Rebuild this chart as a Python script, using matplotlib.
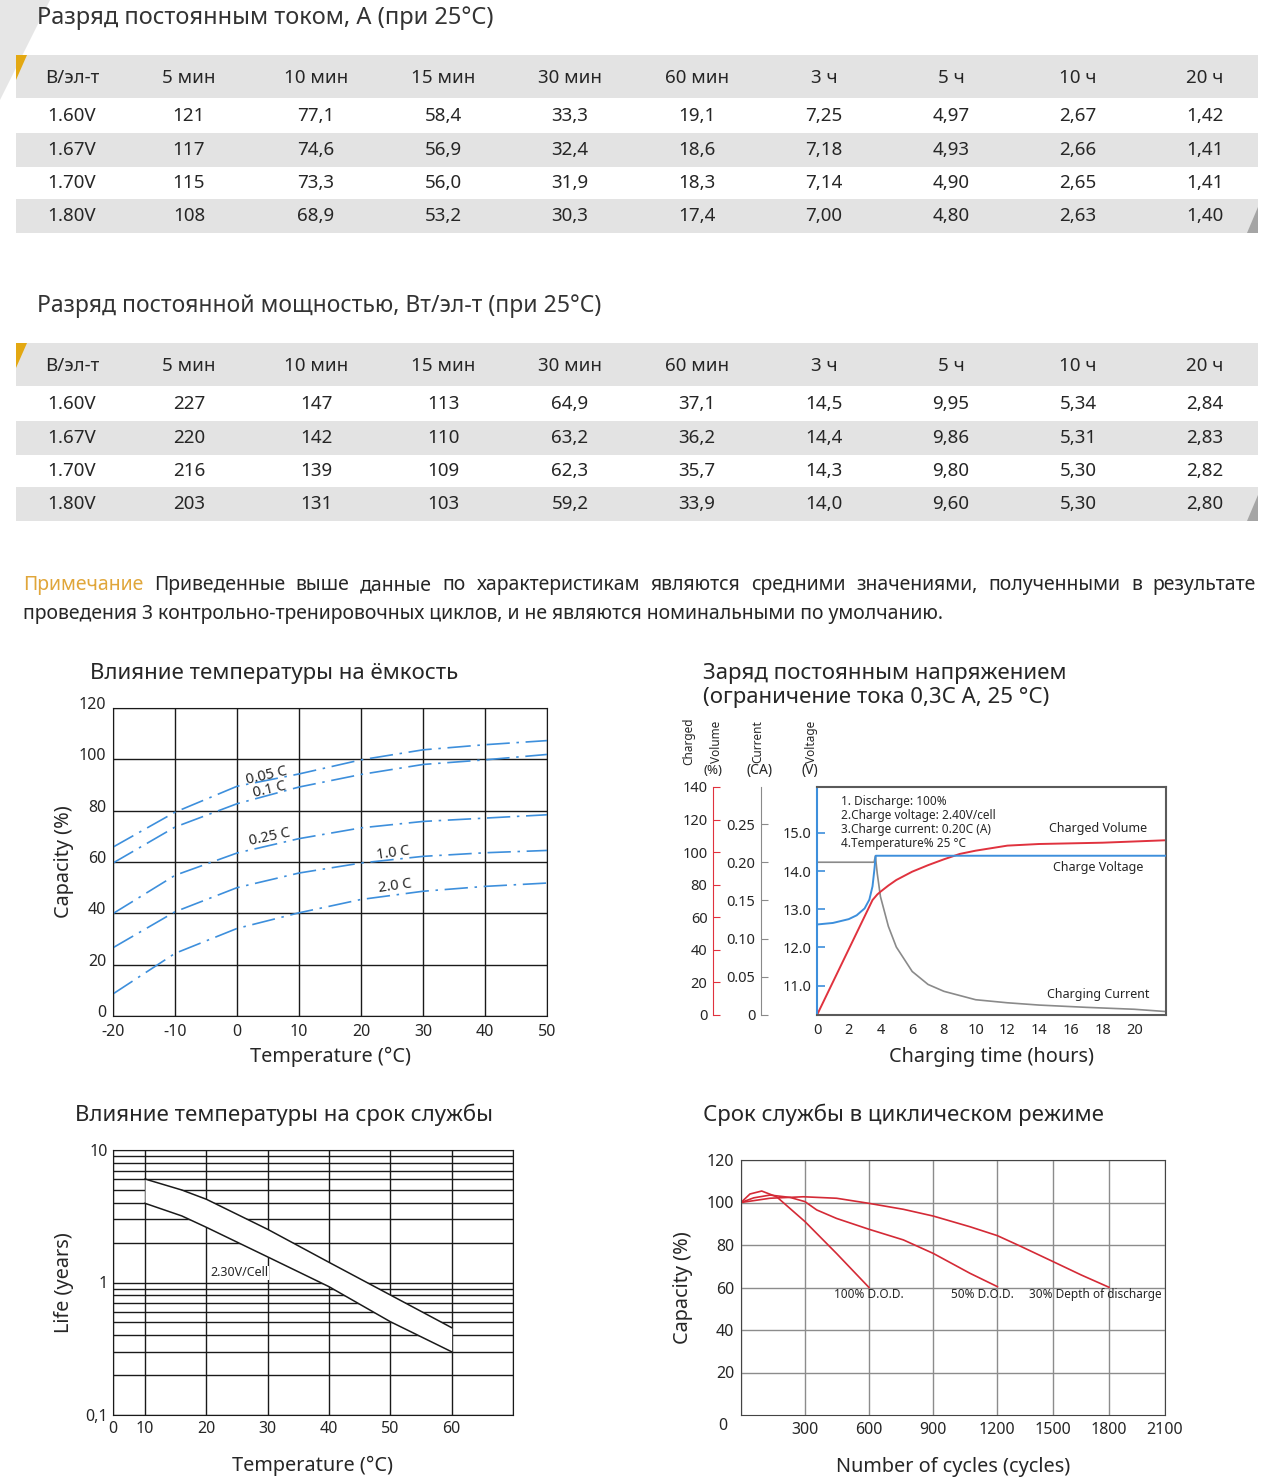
import numpy as np
import matplotlib
matplotlib.use('Agg')
import matplotlib.pyplot as plt
from matplotlib.patches import Polygon, Rectangle
from matplotlib.ticker import FixedLocator, LogLocator, NullFormatter, FixedFormatter
from matplotlib.scale import FuncScale
from matplotlib.transforms import ScaledTranslation

W, H = 1280, 1479
plt.rcParams['font.family'] = ['Noto Sans', 'DejaVu Sans']
plt.rcParams['axes.unicode_minus'] = False
TXT = '#262626'

# ---------------- table data ----------------
table_cols = ['В/эл-т', '5 мин', '10 мин', '15 мин', '30 мин', '60 мин', '3 ч', '5 ч', '10 ч', '20 ч']
table_volts = ['1.60V', '1.67V', '1.70V', '1.80V']
current_rows = [
    ['121', '77,1', '58,4', '33,3', '19,1', '7,25', '4,97', '2,67', '1,42'],
    ['117', '74,6', '56,9', '32,4', '18,6', '7,18', '4,93', '2,66', '1,41'],
    ['115', '73,3', '56,0', '31,9', '18,3', '7,14', '4,90', '2,65', '1,41'],
    ['108', '68,9', '53,2', '30,3', '17,4', '7,00', '4,80', '2,63', '1,40']]
power_rows = [
    ['227', '147', '113', '64,9', '37,1', '14,5', '9,95', '5,34', '2,84'],
    ['220', '142', '110', '63,2', '36,2', '14,4', '9,86', '5,31', '2,83'],
    ['216', '139', '109', '62,3', '35,7', '14,3', '9,80', '5,30', '2,82'],
    ['203', '131', '103', '59,2', '33,9', '14,0', '9,60', '5,30', '2,80']]
title_current = 'Разряд постоянным током, А (при 25°С)'
title_power = 'Разряд постоянной мощностью, Вт/эл-т (при 25°С)'
note_head = 'Примечание'
note_line1 = 'Приведенные выше данные по характеристикам являются средними значениями, полученными в результате'
note_line2 = 'проведения 3 контрольно-тренировочных циклов, и не являются номинальными по умолчанию.'

# ---------------- chart 1: temperature vs capacity ----------------
temp_c = [-20, -10, 0, 10, 20, 30, 40, 50]
cap_005 = [65.8, 79.4, 89.5, 94.3, 99.8, 103.7, 105.7, 107.3]
cap_01 = [59.6, 73.6, 82.7, 89.2, 94.1, 98.0, 99.8, 101.9]
cap_025 = [39.9, 54.8, 63.5, 69.1, 73.3, 75.8, 77.1, 78.4]
cap_10 = [26.6, 40.6, 50.0, 55.7, 59.6, 62.2, 63.6, 64.5]
cap_20 = [8.6, 24.4, 34.1, 40.2, 45.4, 48.6, 50.5, 51.8]
rate_labels = ['0.05 C', '0.1 C', '0.25 C', '1.0 C', '2.0 C']

# ---------------- chart 2: charging ----------------
t_volt = [0, 1, 2, 2.5, 3.0, 3.3, 3.5, 3.62, 3.7, 22]
v_volt = [12.6, 12.64, 12.74, 12.84, 13.02, 13.25, 13.6, 14.05, 14.4, 14.4]
t_cur = [0, 3.6, 3.68, 3.8, 4.0, 4.5, 5.0, 6.0, 7.0, 8.0, 10.0, 12.0, 14.0, 17.0, 20.0, 22.0]
v_cur = [0.20, 0.20, 0.208, 0.185, 0.155, 0.116, 0.089, 0.057, 0.040, 0.031, 0.020, 0.016, 0.013, 0.010, 0.0075, 0.0045]
t_vol = [0, 3.5, 3.8, 4.0, 4.5, 5.0, 6.0, 7.0, 8.0, 9.0, 10.0, 12.0, 14.0, 18.0, 22.0]
v_vol = [0, 70.6, 74.0, 75.7, 79.5, 82.9, 88.0, 92.0, 95.6, 98.9, 100.9, 104.0, 105.0, 105.8, 107.3]

# ---------------- chart 3: life vs temperature ----------------
life_t = [10, 16, 20, 30, 40, 50, 60]
life_upper = [6.04, 4.99, 4.25, 2.52, 1.42, 0.805, 0.456]
life_lower = [3.96, 3.18, 2.61, 1.56, 0.93, 0.506, 0.30]

# ---------------- chart 4: cycle life ----------------
c100_x = [0, 42, 97, 167, 300, 448, 600]
c100_y = [100, 104, 105.4, 102.7, 91, 76, 60]
c50_x = [0, 60, 136, 230, 300, 355, 448, 600, 761, 902, 1073, 1202]
c50_y = [100, 102.2, 103.5, 102.4, 100.4, 96.5, 92.5, 87.4, 82.4, 76, 66.7, 60.4]
c30_x = [0, 136, 292, 448, 600, 761, 902, 1073, 1202, 1324, 1500, 1651, 1800]
c30_y = [100, 102, 102.7, 102, 99.6, 96.8, 93.6, 88.6, 84.4, 79.5, 72.2, 65.9, 60.1]
dod_labels = ['100% D.O.D.', '50% D.O.D.', '30% Depth of discharge']

fig = plt.figure(figsize=(W / 100, H / 100), dpi=100)

# background pixel-coordinate axes
bg = fig.add_axes([0, 0, 1, 1], zorder=0)
bg.set_xlim(0, W)
bg.set_ylim(H, 0)
bg.axis('off')

bg.add_patch(Polygon([(0, 0), (50, 0), (0, 100)], closed=True, color='#e6e6e6', lw=0))

col_x = [72, 189, 316, 443, 570, 697, 824, 951, 1078, 1205]
GRAY = '#e3e3e3'
TFS = 13.5


def draw_table(y0, title, rows, tfs):
    bg.text(37, y0 + 18, title, fontsize=tfs, color='#333333', va='center', ha='left')
    bg.add_patch(Rectangle((16, y0 + 55), 1242, 43, color=GRAY, lw=0))
    bg.add_patch(Polygon([(16, y0 + 55), (27, y0 + 55), (16, y0 + 80)], closed=True, color='#e3a812', lw=0))
    for i, c in enumerate(table_cols):
        bg.text(col_x[i], y0 + 78, c, fontsize=TFS, color=TXT, ha='center', va='center')
    row_y = [116, 150, 183, 216]
    for r in range(4):
        if r % 2 == 1:
            bg.add_patch(Rectangle((16, y0 + row_y[r] - 17), 1242, 33.5, color=GRAY, lw=0))
        bg.text(col_x[0], y0 + row_y[r], table_volts[r], fontsize=TFS, color=TXT, ha='center', va='center')
        for j, v in enumerate(rows[r]):
            bg.text(col_x[j + 1], y0 + row_y[r], v, fontsize=TFS, color=TXT, ha='center', va='center')
    bg.add_patch(Polygon([(1247, y0 + 233), (1258, y0 + 207), (1258, y0 + 233)], closed=True,
                         color='#a5a5a5', lw=0))


draw_table(0, title_current, current_rows, 17)
draw_table(288, title_power, power_rows, 16.5)

# note with justification
renderer = fig.canvas.get_renderer()
NFS = 14


def justify(words, y, x0, x1, colors):
    arts = [bg.text(0, y, w, fontsize=NFS, color=c, ha='left', va='center') for w, c in zip(words, colors)]
    inv = bg.transData.inverted()
    widths = []
    for a in arts:
        bb = a.get_window_extent(renderer)
        p0 = inv.transform((bb.x0, bb.y0))
        p1 = inv.transform((bb.x1, bb.y0))
        widths.append(p1[0] - p0[0])
    gap = (x1 - x0 - sum(widths)) / (len(words) - 1)
    x = x0
    for a, w in zip(arts, widths):
        a.set_x(x)
        x += w + gap


w1 = [note_head] + note_line1.split()
justify(w1, 585, 23, 1256, ['#e0a63a'] + [TXT] * (len(w1) - 1))
bg.text(23, 614, note_line2, fontsize=NFS, color=TXT, ha='left', va='center')


def fx(px):
    return px / W


def fy(py):
    return 1 - py / H


TICK_FS = 11.5
LAB_FS = 14.3
TITLE_FS = 16

# ---------------- chart 1 ----------------
BLUE = '#3d8fdc'
ax1 = fig.add_axes([fx(113), fy(1016), (547 - 113) / W, (1016 - 708) / H], zorder=2)
for ys, lab in zip([cap_005, cap_01, cap_025, cap_10, cap_20], rate_labels):
    ln, = ax1.plot(temp_c, ys, color=BLUE, lw=1.2)
    ln.set_dashes([14, 4, 1.5, 4])
ax1.set_xlim(-20, 50)
ax1.set_ylim(0, 120)
ax1.set_xticks(range(-20, 51, 10))
ax1.set_yticks(range(0, 121, 20))
ax1.grid(True, color='#1a1a1a', lw=1)
ax1.tick_params(length=0, labelsize=TICK_FS, colors=TXT, pad=5)
ax1.tick_params(axis='x', pad=6)
up = ScaledTranslation(0, 5 / 100, fig.dpi_scale_trans)
for lab in ax1.get_yticklabels():
    lab.set_transform(lab.get_transform() + up)
for s in ax1.spines.values():
    s.set_color('#1a1a1a')
ax1.set_xlabel('Temperature (°C)', fontsize=LAB_FS, color=TXT, labelpad=5)
ax1.set_ylabel('Capacity (%)', fontsize=LAB_FS, color=TXT, labelpad=3)
lab_pos = [(4.8, 93.5, 13), (5.3, 88.3, 13), (5.3, 69.8, 12), (25.1, 63.4, 8), (25.5, 50.5, 8)]
for lab, (x, y, r) in zip(rate_labels, lab_pos):
    ax1.text(x, y, lab, fontsize=10.5, color=TXT, rotation=r, ha='center', va='center')
fig.text(fx(90), fy(673), 'Влияние температуры на ёмкость', fontsize=TITLE_FS, color=TXT, ha='left', va='center')

# ---------------- chart 2 ----------------
GREY = '#8a8a8a'
RED = '#e0323e'
ax2 = fig.add_axes([fx(817), fy(1015), (1166 - 817) / W, (1015 - 787) / H], zorder=2)
ax2.set_xlim(0, 22)
ax2.set_ylim(10.23, 16.2)
ax2.set_yticks([11, 12, 13, 14, 15])
ax2.set_yticklabels(['11.0', '12.0', '13.0', '14.0', '15.0'])
ax2.set_xticks(range(0, 21, 2))
ax2.tick_params(axis='x', length=0, labelsize=10.5, colors=TXT, pad=6)
ax2.tick_params(axis='y', direction='in', length=6, width=1.2, color=BLUE, labelcolor=TXT, labelsize=10.5, pad=4)
for k in ['top', 'right', 'bottom']:
    ax2.spines[k].set_color('#5a5a5a')
    ax2.spines[k].set_linewidth(1.5)
ax2.spines['left'].set_color(BLUE)
ax2.spines['left'].set_linewidth(1.5)
ax2.set_xlabel('Charging time (hours)', fontsize=LAB_FS, color=TXT, labelpad=6)

axc = ax2.twinx()
axc.set_ylim(0, 0.2985)
axc.plot(t_cur, v_cur, color=GREY, lw=1.2)
axc.yaxis.tick_left()
for k in ['top', 'right', 'bottom']:
    axc.spines[k].set_visible(False)
axc.spines['left'].set_visible(True)
axc.spines['left'].set_position(('axes', -0.1605))
axc.spines['left'].set_color(GREY)
axc.set_yticks([0, 0.05, 0.10, 0.15, 0.20, 0.25])
axc.set_yticklabels(['0', '0.05', '0.10', '0.15', '0.20', '0.25'])
axc.tick_params(axis='y', direction='in', length=5, color=GREY, labelcolor=TXT, labelsize=10.5, pad=4)

axv = ax2.twinx()
axv.set_ylim(0, 140)
axv.plot(t_vol, v_vol, color=RED, lw=1.4)
axv.yaxis.tick_left()
for k in ['top', 'right', 'bottom']:
    axv.spines[k].set_visible(False)
axv.spines['left'].set_visible(True)
axv.spines['left'].set_position(('axes', -0.298))
axv.spines['left'].set_color(RED)
axv.set_yticks(range(0, 141, 20))
axv.tick_params(axis='y', direction='in', length=5, color=RED, labelcolor=TXT, labelsize=10.5, pad=4)

ax2.plot(t_volt, v_volt, color=BLUE, lw=1.4, zorder=5)
ax2.set_zorder(3)
ax2.patch.set_visible(False)

ax2.text(0.07, 0.965, '1. Discharge: 100%\n2.Charge voltage: 2.40V/cell\n3.Charge current: 0.20C (A)\n4.Temperature% 25 °C',
         transform=ax2.transAxes, fontsize=8.5, color=TXT, ha='left', va='top', linespacing=1.1)
ax2.text(0.805, 0.82, 'Charged Volume', transform=ax2.transAxes, fontsize=9, color=TXT, ha='center', va='center')
ax2.text(0.805, 0.645, 'Charge Voltage', transform=ax2.transAxes, fontsize=9, color=TXT, ha='center', va='center')
ax2.text(0.805, 0.09, 'Charging Current', transform=ax2.transAxes, fontsize=9, color=TXT, ha='center', va='center')

fig.text(fx(703), fy(673), 'Заряд постоянным напряжением', fontsize=TITLE_FS, color=TXT, ha='left', va='center')
fig.text(fx(703), fy(697), '(ограничение тока 0,3С А, 25 °С)', fontsize=TITLE_FS, color=TXT, ha='left', va='center')
fig.text(fx(689), fy(765), 'Charged', fontsize=8.5, color=TXT, rotation=90, ha='center', va='bottom')
fig.text(fx(716), fy(763), 'Volume', fontsize=8.5, color=TXT, rotation=90, ha='center', va='bottom')
fig.text(fx(758), fy(763), 'Current', fontsize=8.5, color=TXT, rotation=90, ha='center', va='bottom')
fig.text(fx(811), fy(763), 'Voltage', fontsize=8.5, color=TXT, rotation=90, ha='center', va='bottom')
fig.text(fx(713), fy(771), '(%)', fontsize=9.5, color=TXT, ha='center', va='center')
fig.text(fx(760), fy(771), '(CA)', fontsize=10, color=TXT, ha='center', va='center')
fig.text(fx(810), fy(771), '(V)', fontsize=10, color=TXT, ha='center', va='center')

# ---------------- chart 3 ----------------
XP3 = [0, 10, 70]
FP3 = [0, 5.6, 70]
ax3 = fig.add_axes([fx(113), fy(1415), (513 - 113) / W, (1415 - 1150) / H], zorder=2)
ax3.set_xscale(FuncScale(ax3.xaxis, (lambda x: np.interp(x, XP3, FP3), lambda y: np.interp(y, FP3, XP3))))
ax3.set_yscale('log')
ax3.set_xlim(0, 70)
ax3.set_ylim(0.1, 10)
ax3.fill_between(life_t, life_lower, life_upper, color='white', zorder=2, lw=0)
ax3.plot(life_t, life_upper, color='#1a1a1a', lw=1.1, zorder=3)
ax3.plot(life_t, life_lower, color='#1a1a1a', lw=1.1, zorder=3)
ax3.xaxis.set_major_locator(FixedLocator([0, 10, 20, 30, 40, 50, 60]))
ax3.xaxis.set_major_formatter(FixedFormatter(['0', '10', '20', '30', '40', '50', '60']))
ax3.xaxis.set_minor_locator(FixedLocator([70]))
ax3.yaxis.set_major_locator(FixedLocator([0.1, 1, 10]))
ax3.yaxis.set_major_formatter(FixedFormatter(['0,1', '1', '10']))
ax3.yaxis.set_minor_locator(LogLocator(base=10, subs=np.arange(2, 10)))
ax3.yaxis.set_minor_formatter(NullFormatter())
ax3.set_axisbelow(True)
ax3.grid(True, which='both', color='#1a1a1a', lw=1)
ax3.tick_params(which='both', length=0, labelsize=TICK_FS, colors=TXT, pad=4)
for s in ax3.spines.values():
    s.set_color('#1a1a1a')
ax3.text(20.6, 1.18, '2.30V/Cell', fontsize=9, color=TXT, ha='left', va='center', zorder=4,
         bbox=dict(facecolor='white', edgecolor='none', pad=0.5))
ax3.set_xlabel('Temperature (°C)', fontsize=LAB_FS, color=TXT, labelpad=14)
ax3.set_ylabel('Life (years)', fontsize=LAB_FS, color=TXT, labelpad=8)
fig.text(fx(75), fy(1115), 'Влияние температуры на срок службы', fontsize=TITLE_FS, color=TXT, ha='left', va='center')

# ---------------- chart 4 ----------------
XP4 = [0, 1200, 2100]
FP4 = [0, 1200, 1987.5]
ax4 = fig.add_axes([fx(741), fy(1415), (1165 - 741) / W, (1415 - 1160) / H], zorder=2)
ax4.set_xscale(FuncScale(ax4.xaxis, (lambda x: np.interp(x, XP4, FP4), lambda y: np.interp(y, FP4, XP4))))
ax4.set_xlim(0, 2100)
ax4.set_ylim(0, 120)
CRED = '#d42a36'
ax4.plot(c100_x, c100_y, color=CRED, lw=1.2)
ax4.plot(c50_x, c50_y, color=CRED, lw=1.2)
ax4.plot(c30_x, c30_y, color=CRED, lw=1.2)
ax4.xaxis.set_major_locator(FixedLocator([0, 300, 600, 900, 1200, 1500, 1800, 2100]))
ax4.xaxis.set_major_formatter(FixedFormatter(['', '300', '600', '900', '1200', '1500', '1800', '2100']))
ax4.set_yticks(range(20, 121, 20))
ax4.text(-0.042, -0.045, '0', transform=ax4.transAxes, fontsize=TICK_FS, color=TXT, ha='center', va='center')
ax4.grid(True, color='#8c8c8c', lw=1)
ax4.tick_params(length=0, labelsize=TICK_FS, colors=TXT, pad=5)
for s in ax4.spines.values():
    s.set_color('#444444')
for lab, x in zip(dod_labels, [600, 1134, 1724]):
    ax4.text(x, 56.5, lab, fontsize=8.5, color=TXT, ha='center', va='center')
ax4.set_xlabel('Number of cycles (cycles)', fontsize=LAB_FS, color=TXT, labelpad=14)
ax4.set_ylabel('Capacity (%)', fontsize=LAB_FS, color=TXT, labelpad=10)
fig.text(fx(703), fy(1115), 'Срок службы в циклическом режиме', fontsize=TITLE_FS, color=TXT, ha='left', va='center')

fig.savefig('out.png', dpi=100)
